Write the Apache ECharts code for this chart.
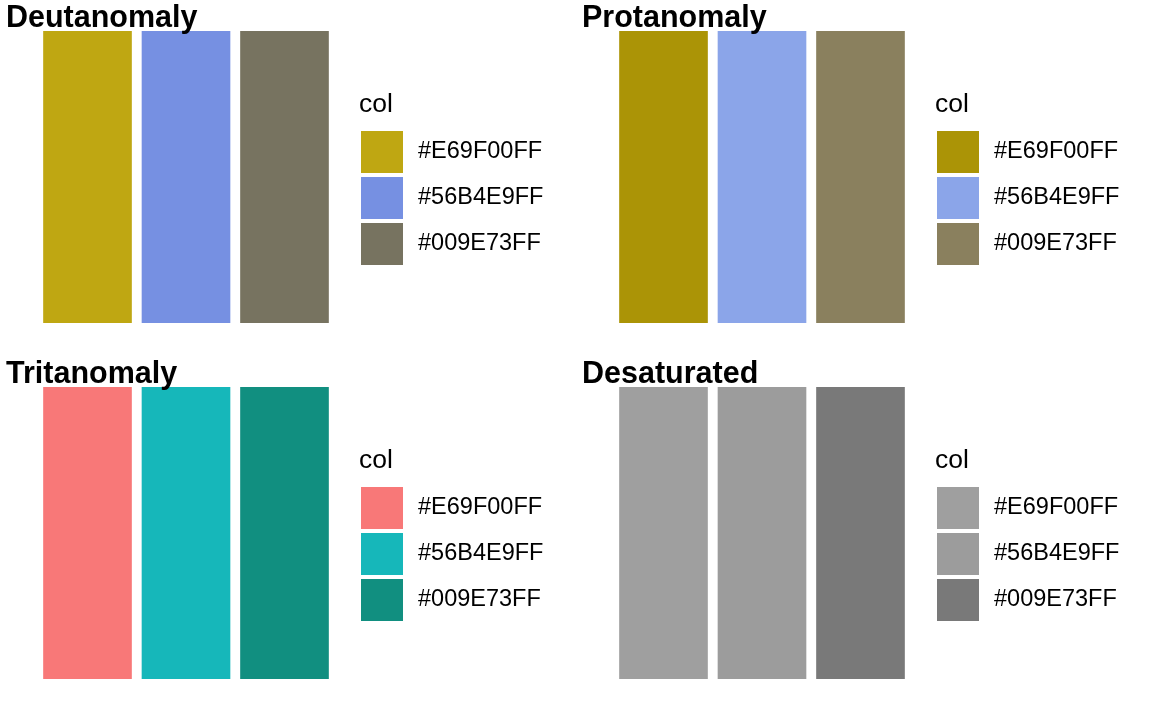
<!DOCTYPE html>
<html>
<head>
    <meta charset="utf-8">
    <title>Colour vision</title>
    <script type="text/javascript" src="https://cdn.jsdelivr.net/npm/echarts@6/dist/echarts.min.js"></script>
    <style>
        body { margin: 0; background: #fff; }
    </style>
</head>
<body>
<div id="cvdChart" style="width: 1152px; height: 711px;"></div>
<script type="text/javascript">
    // legend labels / x categories
    var categories = ['#E69F00FF', '#56B4E9FF', '#009E73FF'];
    var values = [1, 1, 1];
    var panelTitles = ['Deutanomaly', 'Protanomaly', 'Tritanomaly', 'Desaturated'];
    var deutanColors = ['#BFA712', '#7690E2', '#777360'];
    var protanColors = ['#AB9406', '#8BA5E9', '#8A805E'];
    var tritanColors = ['#F87878', '#16B7BA', '#118F80'];
    var desatColors = ['#9F9F9F', '#9C9C9C', '#797979'];
    var panelColors = [deutanColors, protanColors, tritanColors, desatColors];

    var fontName = 'Liberation Sans, Arial, sans-serif';
    var panelX = [0, 576];
    var panelY = [0, 356];

    var chart = echarts.init(document.getElementById('cvdChart'));

    var grids = [], xAxes = [], yAxes = [], series = [], legends = [], titles = [];
    for (var p = 0; p < 4; p++) {
        var ox = panelX[p % 2], oy = panelY[Math.floor(p / 2)];
        grids.push({left: ox + 38.25, top: oy + 31, width: 295.5, height: 292});
        xAxes.push({
            type: 'category', gridIndex: p, data: categories, show: false
        });
        yAxes.push({
            type: 'value', gridIndex: p, min: 0, max: 1, show: false
        });
        for (var i = 0; i < categories.length; i++) {
            var d = categories.map(function (c, j) { return j === i ? values[j] : '-'; });
            series.push({
                type: 'bar',
                name: categories[i],
                xAxisIndex: p,
                yAxisIndex: p,
                data: d,
                barWidth: '90%',
                barGap: '-100%',
                silent: true,
                itemStyle: {color: panelColors[p][i]}
            });
        }
        legends.push({
            orient: 'vertical',
            left: ox + 361,
            top: oy + 131,
            itemWidth: 42,
            itemHeight: 42,
            itemGap: 4,
            icon: 'rect',
            selectedMode: false,
            padding: 0,
            textStyle: {fontSize: 23.5, color: '#000', fontFamily: fontName, padding: [5, 0, 0, 10]},
            data: categories.map(function (c, j) {
                return {name: c, itemStyle: {color: panelColors[p][j]}};
            })
        });
        titles.push({
            text: panelTitles[p],
            left: ox + 6,
            top: oy + 3,
            padding: 0,
            textStyle: {fontSize: 30.5, fontWeight: 'bold', color: '#000', fontFamily: fontName}
        });
        titles.push({
            text: 'col',
            left: ox + 359,
            top: oy + 91,
            padding: 0,
            textStyle: {fontSize: 26.5, fontWeight: 'normal', color: '#000', fontFamily: fontName}
        });
    }

    chart.setOption({
        animation: false,
        backgroundColor: '#fff',
        title: titles,
        legend: legends,
        grid: grids,
        xAxis: xAxes,
        yAxis: yAxes,
        series: series
    });
</script>
</body>
</html>
